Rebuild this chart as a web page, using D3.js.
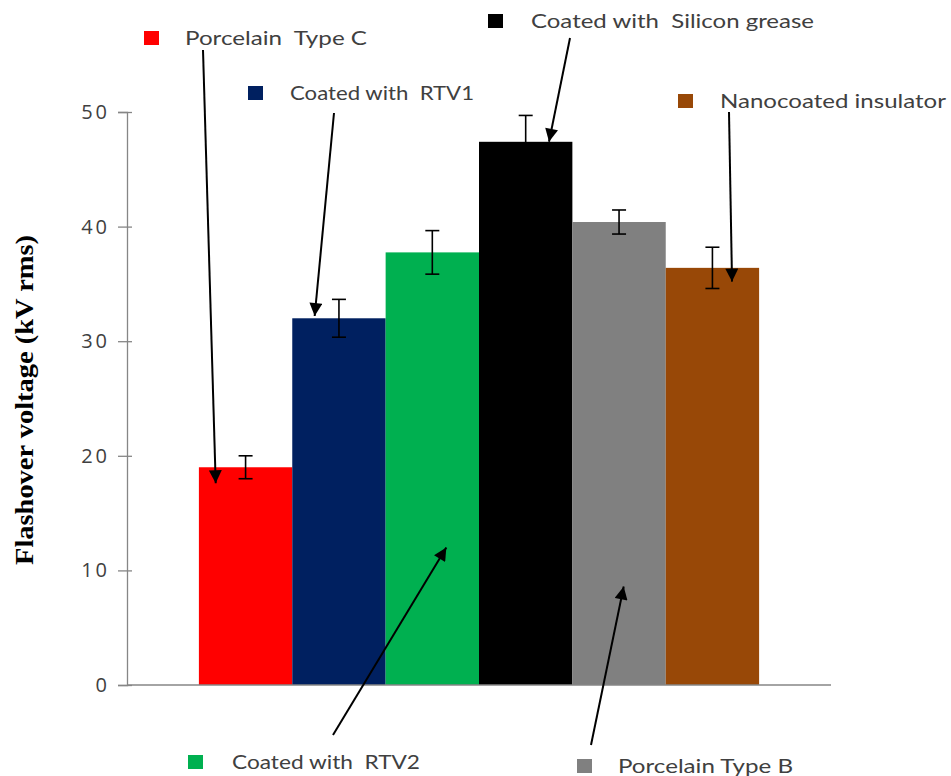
<!DOCTYPE html>
<html>
<head>
<meta charset="utf-8">
<script src="https://cdn.jsdelivr.net/npm/d3@7"></script>
<style>
  html, body { margin: 0; padding: 0; background: #fff; }
  svg { display: block; }
</style>
</head>
<body>
<svg id="chart" width="951" height="776"></svg>
<script>
// Insulator types and measured flashover voltages (kV rms) with error margins
const categories = [
  "Porcelain  Type C",
  "Coated with  RTV1",
  "Coated with  RTV2",
  "Coated with  Silicon grease",
  "Porcelain Type B",
  "Nanocoated insulator"
];
const flashoverKV = [19.0, 32.0, 37.75, 47.4, 40.4, 36.4];
const errorKV = [1.0, 1.65, 1.9, 2.3, 1.05, 1.8];
const barColors = ["#FF0000", "#002060", "#00B050", "#000000", "#808080", "#984807"];
const yTicks = [0, 10, 20, 30, 40, 50];
const yTitle = "Flashover voltage (kV rms)";

const svg = d3.select("#chart");
const plot = { left: 127, right: 831, top: 112, bottom: 685 };

const x = d3.scaleBand()
  .domain(categories)
  .range([plot.left, plot.right])
  .paddingInner(0)
  .paddingOuter(0.77);

const y = d3.scaleLinear()
  .domain([0, 50])
  .range([plot.bottom, plot.top]);

const axisColor = "#868686";
const textColor = "#404040";

// Bars
svg.append("g").selectAll("rect")
  .data(categories)
  .join("rect")
  .attr("x", d => x(d))
  .attr("width", x.bandwidth())
  .attr("y", (d, i) => y(flashoverKV[i]))
  .attr("height", (d, i) => y(0) - y(flashoverKV[i]))
  .attr("fill", (d, i) => barColors[i]);

// Error bars
const cap = 7;
const eg = svg.append("g").attr("stroke", "#000").attr("stroke-width", 1.6).attr("fill", "none");
categories.forEach((c, i) => {
  const cx = x(c) + x.bandwidth() / 2;
  const hi = y(flashoverKV[i] + errorKV[i]);
  const lo = y(flashoverKV[i] - errorKV[i]);
  eg.append("line").attr("x1", cx).attr("x2", cx).attr("y1", hi).attr("y2", lo);
  eg.append("line").attr("x1", cx - cap).attr("x2", cx + cap).attr("y1", hi).attr("y2", hi);
  eg.append("line").attr("x1", cx - cap).attr("x2", cx + cap).attr("y1", lo).attr("y2", lo);
});

// Y axis
const yAxis = d3.axisLeft(y).tickValues(yTicks).tickSize(9).tickPadding(8);
const ya = svg.append("g").attr("transform", `translate(${plot.left},0)`).call(yAxis);
ya.select(".domain").attr("stroke", axisColor).attr("stroke-width", 1.3);
ya.selectAll(".tick line").attr("stroke", axisColor).attr("stroke-width", 1.3).attr("x2", -9).attr("x1", 5);
ya.selectAll(".tick text")
  .attr("fill", textColor)
  .style("font-family", "'Open Sans', 'DejaVu Sans', sans-serif")
  .style("font-size", "20px")
  .style("letter-spacing", "3px");

// X baseline
svg.append("line")
  .attr("x1", plot.left).attr("x2", plot.right)
  .attr("y1", y(0)).attr("y2", y(0))
  .attr("stroke", axisColor).attr("stroke-width", 1.5);

// Y title
svg.append("text")
  .attr("transform", `translate(33,400) rotate(-90)`)
  .attr("text-anchor", "middle")
  .attr("fill", "#000")
  .attr("textLength", 330)
  .attr("lengthAdjust", "spacingAndGlyphs")
  .style("font-family", "'Liberation Serif', 'Times New Roman', serif")
  .style("font-weight", "bold")
  .style("font-size", "26px")
  .text(yTitle);

// Arrow marker
const defs = svg.append("defs");
defs.append("marker")
  .attr("id", "arrow")
  .attr("viewBox", "0 0 10 10")
  .attr("refX", 10).attr("refY", 5)
  .attr("markerWidth", 15).attr("markerHeight", 13)
  .attr("markerUnits", "userSpaceOnUse")
  .attr("orient", "auto")
  .append("path")
  .attr("d", "M0,0 L10,5 L0,10 Z")
  .attr("fill", "#000");

// Callout labels: swatch + text placement, arrow tail, and arrow tip given
// as (fraction across the bar, value on the y scale)
const callouts = [
  { i: 0, sx: 144, sy: 31, tx: 185, tw: 182, tail: [203, 50],  tip: [0.18, 17.6] },
  { i: 1, sx: 248, sy: 86, tx: 290, tw: 184, tail: [334, 113], tip: [0.24, 32.2] },
  { i: 2, sx: 188, sy: 755, tx: 232, tw: 188, tail: [333, 735], tip: [0.65, 12.0] },
  { i: 3, sx: 488, sy: 14, tx: 531, tw: 283, tail: [570, 38],  tip: [0.75, 47.4] },
  { i: 4, sx: 577, sy: 759, tx: 618, tw: 175, tail: [591, 745], tip: [0.55, 8.6] },
  { i: 5, sx: 678, sy: 94, tx: 720, tw: 226, tail: [729, 112], tip: [0.71, 35.2] }
];

const cg = svg.append("g");
callouts.forEach(o => {
  const c = categories[o.i];
  cg.append("rect")
    .attr("x", o.sx).attr("y", o.sy).attr("width", 15).attr("height", 14)
    .attr("fill", barColors[o.i]);
  cg.append("text")
    .attr("x", o.tx).attr("y", o.sy + 14)
    .attr("fill", textColor)
    .attr("textLength", o.tw)
    .attr("lengthAdjust", "spacingAndGlyphs")
    .style("white-space", "pre")
    .style("font-family", "Lato, 'Open Sans', sans-serif")
    .style("font-size", "20px")
    .text(c);
  const tipX = x(c) + o.tip[0] * x.bandwidth();
  const tipY = y(o.tip[1]);
  cg.append("line")
    .attr("x1", o.tail[0]).attr("y1", o.tail[1])
    .attr("x2", tipX).attr("y2", tipY)
    .attr("stroke", "#000").attr("stroke-width", 2)
    .attr("marker-end", "url(#arrow)");
});
</script>
</body>
</html>
